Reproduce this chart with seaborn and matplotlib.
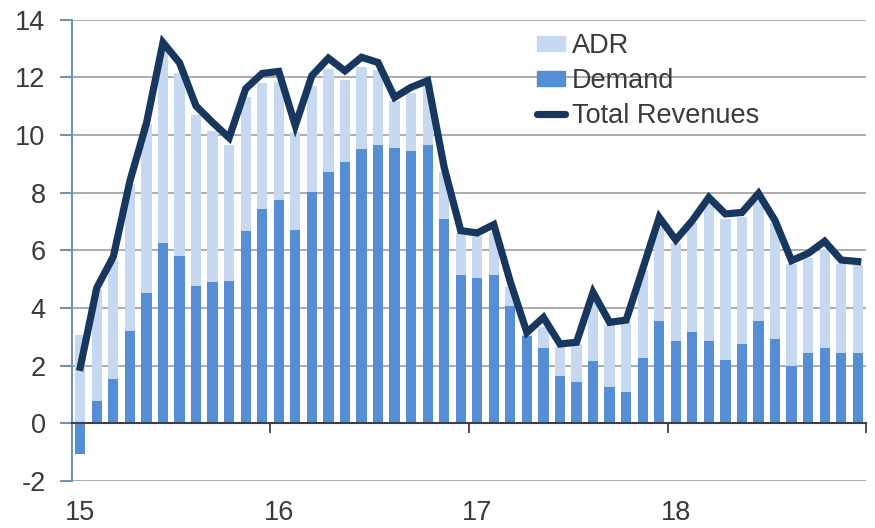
import pandas as pd
import seaborn as sns
import matplotlib.pyplot as plt
from matplotlib.patches import Patch
from matplotlib.lines import Line2D

# monthly values, Jan 2015 - Dec 2018
meses = list(pd.date_range("2015-01-01", periods=48, freq="MS").strftime("%Y-%m"))

demand = [-1.05, 0.79, 1.53, 3.20, 4.53, 6.24, 5.80, 4.76, 4.91, 4.95, 6.68, 7.43,
          7.75, 6.71, 8.03, 8.72, 9.07, 9.52, 9.66, 9.56, 9.43, 9.66, 7.10, 5.15,
          5.05, 5.15, 4.08, 3.02, 2.60, 1.64, 1.42, 2.16, 1.27, 1.09, 2.28, 3.53,
          2.87, 3.15, 2.87, 2.20, 2.75, 3.53, 2.94, 2.00, 2.43, 2.60, 2.45, 2.45]

adr = [3.05, 3.87, 4.13, 5.10, 5.83, 6.66, 6.33, 5.94, 5.24, 4.71, 4.62, 4.36,
       4.09, 3.40, 3.67, 3.58, 2.84, 2.85, 2.60, 1.63, 2.02, 2.11, 1.60, 1.44,
       1.45, 1.45, 0.66, 0.08, 0.73, 0.99, 1.33, 2.04, 2.15, 2.41, 3.02, 3.27,
       3.37, 3.78, 4.73, 4.88, 4.39, 4.19, 3.99, 3.52, 3.30, 3.43, 3.07, 3.05]

total_revenues = [1.94, 4.70, 5.78, 8.40, 10.40, 13.20, 12.50, 11.00, 10.43, 9.90, 11.60, 12.13,
                  12.20, 10.32, 12.05, 12.66, 12.22, 12.69, 12.51, 11.30, 11.65, 11.88, 8.87, 6.68,
                  6.60, 6.89, 4.90, 3.15, 3.67, 2.75, 2.81, 4.54, 3.50, 3.58, 5.35, 7.14,
                  6.36, 7.03, 7.83, 7.26, 7.31, 7.97, 7.03, 5.64, 5.89, 6.31, 5.66, 5.61]

anos = ["15", "16", "17", "18"]

cor_adr = "#C6D9F1"
cor_demand = "#558ED5"
cor_total = "#17375E"
cor_texto = "#3A3A3A"

df = pd.DataFrame({"Mes": meses, "Demand": demand, "ADR": adr, "Total": total_revenues})
df["pos"] = range(len(df))
# ADR sits on top of the positive part of demand
df["Topo"] = df["Demand"].clip(lower=0) + df["ADR"]

plt.rcParams["font.family"] = ["Liberation Sans", "DejaVu Sans"]
plt.rcParams["axes.unicode_minus"] = False
fig = plt.figure(figsize=(8.75, 5.28), dpi=100)
ax = fig.add_axes([72 / 875, 1 - 481 / 528, (866 - 72) / 875, (481 - 19.5) / 528])

sns.barplot(data=df, x="pos", y="Topo", color=cor_adr, saturation=1, width=0.62,
            errorbar=None, ax=ax, zorder=2)
sns.barplot(data=df, x="pos", y="Demand", color=cor_demand, saturation=1, width=0.62,
            errorbar=None, ax=ax, zorder=3)
sns.lineplot(data=df, x="pos", y="Total", color=cor_total, linewidth=5.2,
             solid_joinstyle="miter", ax=ax, zorder=4)

ax.set_xlim(-0.5, 47.5)
ax.set_ylim(-2, 14)
ax.set_yticks(range(-2, 15, 2))
ax.set_xlabel("")
ax.set_ylabel("")

# year ticks on the zero line, labels under the plot
ax.set_xticks([-0.5, 11.5, 23.5, 35.5, 47.5])
ax.set_xticklabels([])
ax.set_xticks([0, 12, 24, 36], minor=True)
ax.set_xticklabels(anos, minor=True)
ax.tick_params(axis="x", which="major", length=7, width=1.3, color="#404040")
ax.tick_params(axis="x", which="minor", length=0, pad=55, labelsize=19.5, labelcolor=cor_texto)
ax.tick_params(axis="y", length=9, width=1.5, color="#6F94AE", pad=10, labelsize=19.5,
               labelcolor=cor_texto)

ax.grid(axis="y", color="#A6A6A6", linewidth=1.3)
ax.grid(axis="x", visible=False)
ax.set_axisbelow(True)

for lado in ["top", "right"]:
    ax.spines[lado].set_visible(False)
ax.spines["bottom"].set_position(("data", 0))
ax.spines["bottom"].set_color("#404040")
ax.spines["bottom"].set_linewidth(1.5)
ax.spines["bottom"].set_zorder(5)
ax.spines["left"].set_color("#6F94AE")
ax.spines["left"].set_linewidth(1.5)

handles = [Patch(color=cor_adr), Patch(color=cor_demand),
           Line2D([], [], color=cor_total, linewidth=5.2, solid_capstyle="round")]
ax.legend(handles, ["ADR", "Demand", "Total Revenues"], loc="upper left",
          bbox_to_anchor=(537 / 875, 1 - 33 / 528), bbox_transform=fig.transFigure,
          frameon=False, fontsize=19.5, labelcolor=cor_texto, borderpad=0,
          borderaxespad=0, handlelength=1.05, handleheight=0.5, handletextpad=0.25,
          labelspacing=0.33)

plt.savefig("out.png", dpi=100)
